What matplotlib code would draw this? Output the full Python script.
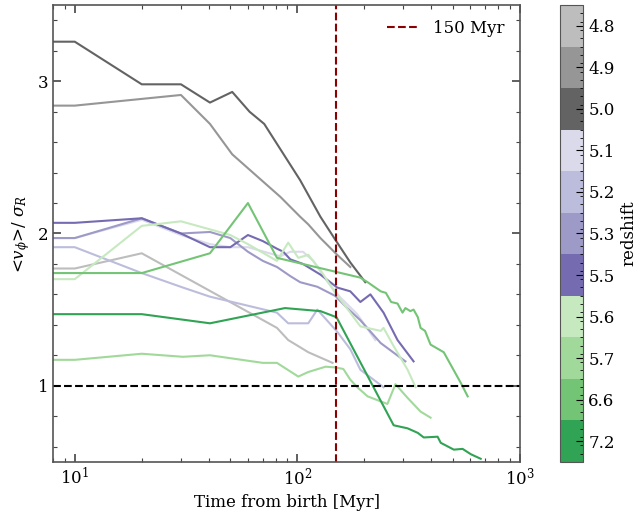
import matplotlib
matplotlib.use("Agg")
import matplotlib.pyplot as plt
from matplotlib.colors import ListedColormap, BoundaryNorm
from matplotlib.ticker import AutoMinorLocator, MultipleLocator, LogLocator, NullFormatter
import matplotlib.cm as cm
import numpy as np

plt.rcParams['font.family'] = 'DejaVu Serif'
plt.rcParams['mathtext.fontset'] = 'dejavuserif'

# redshift labels (top to bottom on the colour bar)
redshifts = ['4.8', '4.9', '5.0', '5.1', '5.2', '5.3', '5.5', '5.6', '5.7', '6.6', '7.2']
colors = ['#bdbdbd', '#969696', '#636363', '#dadaeb', '#bcbddc', '#9e9ac8', '#756bb1',
          '#c7e9c0', '#a1d99b', '#74c476', '#31a354']

t_48 = [5, 10, 20, 81, 91, 101, 112, 144]
v_48 = [1.77, 1.77, 1.87, 1.38, 1.30, 1.26, 1.22, 1.15]

t_49 = [5, 10, 30, 40.5, 51, 84, 103, 112, 127, 151, 173]
v_49 = [2.84, 2.84, 2.91, 2.72, 2.52, 2.24, 2.11, 2.06, 1.97, 1.86, 1.78]

t_50 = [5, 10, 20, 30, 40.5, 51, 61, 71, 103, 127, 148, 173, 202]
v_50 = [3.26, 3.26, 2.98, 2.98, 2.86, 2.93, 2.80, 2.72, 2.35, 2.11, 1.96, 1.81, 1.68]

t_51 = [5, 10, 20, 30, 40.5, 50, 60, 73, 84, 93, 106, 118, 137, 156, 186, 224]
v_51 = [1.97, 1.97, 2.09, 1.99, 1.93, 1.91, 1.91, 1.875, 1.85, 1.88, 1.88, 1.82, 1.68, 1.58, 1.47, 1.30]

t_52 = [5, 10, 20, 30.6, 40.5, 81, 91, 112, 123, 151, 173, 192, 244]
v_52 = [1.91, 1.91, 1.74, 1.645, 1.585, 1.48, 1.41, 1.41, 1.50, 1.355, 1.24, 1.105, 0.99]

t_53 = [5, 10, 20, 30, 40.5, 50, 60, 70, 81, 93, 103, 123, 148, 165, 192, 237, 306]
v_53 = [1.97, 1.97, 2.10, 2.0, 2.01, 1.97, 1.88, 1.82, 1.78, 1.72, 1.68, 1.65, 1.59, 1.52, 1.43, 1.28, 1.16]

t_55 = [5, 10, 20, 30, 40.5, 50, 60, 70, 81, 86.5, 93, 106, 127, 151, 173, 192, 213, 244, 282, 333]
v_55 = [2.07, 2.07, 2.10, 2.0, 1.91, 1.91, 1.99, 1.95, 1.90, 1.88, 1.83, 1.80, 1.73, 1.645, 1.62, 1.55, 1.60, 1.48, 1.30, 1.16]

t_56 = [5, 10, 20, 30, 50, 60, 81, 91, 101, 112, 127, 148, 165, 192, 237, 244, 271, 313, 340]
v_56 = [1.70, 1.70, 2.05, 2.08, 1.99, 1.93, 1.82, 1.94, 1.84, 1.86, 1.76, 1.61, 1.52, 1.39, 1.36, 1.38, 1.26, 1.105, 0.99]

t_57 = [5, 10, 20, 30.6, 40.5, 70, 81, 101, 112, 134, 148, 161, 173, 186, 207, 254, 276, 313, 358, 397]
v_57 = [1.17, 1.17, 1.21, 1.19, 1.20, 1.15, 1.15, 1.06, 1.09, 1.125, 1.12, 1.11, 1.04, 0.99, 0.93, 0.88, 1.01, 0.92, 0.83, 0.79]

t_66 = [5, 10, 20, 40.5, 60, 81, 192, 207, 237, 250, 264, 282, 297, 306, 322, 333, 348, 358, 375, 397, 455, 542, 583]
v_66 = [1.74, 1.74, 1.74, 1.87, 2.20, 1.84, 1.71, 1.68, 1.62, 1.61, 1.55, 1.54, 1.48, 1.51, 1.49, 1.50, 1.45, 1.38, 1.36, 1.27, 1.22, 1.02, 0.93]

t_72 = [5, 10, 20, 40.5, 88, 127, 150, 271, 313, 348, 370, 427, 441, 505, 553, 602, 667]
v_72 = [1.47, 1.47, 1.47, 1.41, 1.51, 1.49, 1.45, 0.74, 0.72, 0.69, 0.66, 0.665, 0.625, 0.58, 0.585, 0.55, 0.52]

series = [(t_48, v_48), (t_49, v_49), (t_50, v_50), (t_51, v_51), (t_52, v_52), (t_53, v_53),
          (t_55, v_55), (t_56, v_56), (t_57, v_57), (t_66, v_66), (t_72, v_72)]

fig = plt.figure(figsize=(6.41, 5.16), dpi=100)
ax = fig.add_axes([0.083, 0.105, 0.728, 0.885])
cax = fig.add_axes([0.874, 0.105, 0.036, 0.885])

for (t, v), c in zip(series, colors):
    ax.plot(t, v, color=c, lw=1.5)

ax.axhline(1.0, color='black', ls='--', lw=1.5)
ax.axvline(150, color='#8b0000', ls='--', lw=1.5, label='150 Myr')

ax.set_xscale('log')
ax.set_xlim(8, 1000)
ax.set_ylim(0.5, 3.5)
ax.yaxis.set_major_locator(MultipleLocator(1))
ax.yaxis.set_minor_locator(MultipleLocator(0.2))
ax.xaxis.set_minor_locator(LogLocator(base=10, subs=np.arange(2, 10)))
ax.xaxis.set_minor_formatter(NullFormatter())
ax.tick_params(which='both', direction='in', top=True, right=True, labelsize=12, colors='#444444',
               labelcolor='black')
ax.tick_params(which='major', length=6, width=1.2)
ax.tick_params(which='minor', length=3, width=0.8)
for s in ax.spines.values():
    s.set_color('#555555')
    s.set_linewidth(1.2)
ax.set_xlabel('Time from birth [Myr]', fontsize=12)
ax.set_ylabel(r'<$v_{\phi}$>/ $\sigma_R$', fontsize=12)
leg = ax.legend(loc='upper right', frameon=False, fontsize=12, handlelength=2.0)

# colour bar: bottom -> top
cmap = ListedColormap(colors[::-1])
norm = BoundaryNorm(np.arange(len(colors) + 1), cmap.N)
sm = cm.ScalarMappable(norm=norm, cmap=cmap)
cb = fig.colorbar(sm, cax=cax)
cb.set_ticks(np.arange(len(colors)) + 0.5)
cb.set_ticklabels(redshifts[::-1])
cb.ax.yaxis.set_minor_locator(MultipleLocator(0.2))
cb.ax.tick_params(which='both', direction='in', labelsize=12)
cb.ax.tick_params(which='major', length=5)
cb.ax.tick_params(which='minor', length=2.5)
cb.outline.set_edgecolor('#555555')
cb.set_label('redshift', fontsize=12)

fig.savefig('out.png', dpi=100)
